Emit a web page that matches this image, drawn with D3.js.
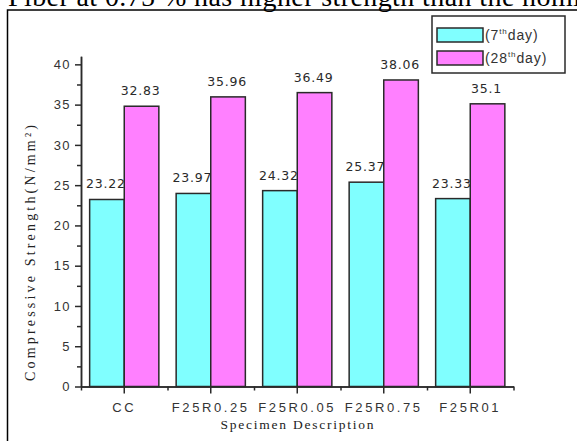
<!DOCTYPE html>
<html><head><meta charset="utf-8">
<script src="https://cdn.jsdelivr.net/npm/d3@7"></script>
<style>body{margin:0;background:#fff;overflow:hidden}svg{display:block}</style>
</head><body>
<svg id="c" width="577" height="441"></svg>
<script>
const categories = ["CC", "F25R0.25", "F25R0.05", "F25R0.75", "F25R01"];
const day7 = [23.22, 23.97, 24.32, 25.37, 23.33];
const day28 = [34.8, 35.96, 36.49, 38.06, 35.1];
const labels7 = ["23.22", "23.97", "24.32", "25.37", "23.33"];
const labels28 = ["32.83", "35.96", "36.49", "38.06", "35.1"];
const yMajor = [0, 5, 10, 15, 20, 25, 30, 35, 40];
const yMinor = [2.5, 7.5, 12.5, 17.5, 22.5, 27.5, 32.5, 37.5];
const seriesNames = ["7", "28"];
const colors = ["#80ffff", "#ff80ff"];

const svg = d3.select("#c");
const ink = "#2a2a2a";

// surrounding page text and frame
svg.append("text").attr("x", 8).attr("y", 5.5)
  .attr("font-family", "Liberation Serif").attr("font-size", 28).attr("fill", "#000")
  .attr("letter-spacing", 0.4)
  .text("Fiber at 0.75 % has higher strength than the nominal");
svg.append("rect").attr("x", 7.5).attr("y", 10).attr("width", 600).attr("height", 460)
  .attr("fill", "none").attr("stroke", "#000").attr("stroke-width", 1.5);

const x0 = d3.scaleBand().domain(categories).range([81, 513.5]).paddingInner(0.2).paddingOuter(0.1);
const x1 = d3.scaleBand().domain([0, 1]).range([0, x0.bandwidth()]);
const y = d3.scaleLinear().domain([0, 41]).range([386.5, 56.3]);
const xLin = d3.scaleLinear().domain([0, categories.length]).range([81, 513.5]);

// bars
const groups = svg.append("g").selectAll("g").data(categories).join("g")
  .attr("transform", d => `translate(${x0(d)},0)`);
[day7, day28].forEach((vals, s) => {
  groups.append("rect")
    .attr("x", (d, i) => x1(s))
    .attr("y", (d, i) => y(vals[i]))
    .attr("width", x1.bandwidth())
    .attr("height", (d, i) => y(0) - y(vals[i]))
    .attr("fill", colors[s]).attr("stroke", ink).attr("stroke-width", 1.5);
});
[[day7, labels7], [day28, labels28]].forEach(([vals, labs], s) => {
  groups.append("text")
    .attr("x", x1(s) + x1.bandwidth() / 2 - 1)
    .attr("y", (d, i) => y(vals[i]) - 11)
    .attr("text-anchor", "middle")
    .attr("font-family", "DejaVu Sans").attr("font-size", 12.5).attr("letter-spacing", 0.8)
    .attr("fill", ink)
    .text((d, i) => labs[i]);
});

// y axis
svg.append("g").attr("transform", "translate(81,0)")
  .call(d3.axisLeft(y).tickValues(yMajor).tickSize(6).tickSizeOuter(0).tickPadding(4).tickFormat(d3.format("d")));
svg.append("g").attr("transform", "translate(81,0)")
  .call(d3.axisLeft(y).tickValues(yMinor).tickSize(4).tickSizeOuter(0).tickFormat(""));
// x axis
const xAxis = svg.append("g").attr("transform", "translate(0,386.5)")
  .call(d3.axisBottom(x0).tickSize(7).tickSizeOuter(0).tickPadding(9));
svg.append("g").attr("transform", "translate(0,386.5)")
  .call(d3.axisBottom(xLin).tickValues(d3.range(0, categories.length + 1)).tickSize(4).tickSizeOuter(0).tickFormat(""));
svg.selectAll(".domain, .tick line").attr("stroke", ink).attr("stroke-width", 1.5);
svg.selectAll(".tick text").attr("font-family", "Liberation Sans").attr("font-size", 13)
  .attr("letter-spacing", 1.4).attr("fill", "#333");
xAxis.selectAll(".tick text").attr("letter-spacing", 2.6);

// axis titles
svg.append("text").attr("transform", "translate(35,253) rotate(-90)")
  .attr("text-anchor", "middle").attr("font-family", "Liberation Serif").attr("font-size", 14)
  .attr("fill", "#222").attr("textLength", 256).attr("lengthAdjust", "spacing")
  .text("Compressive Strength(N/mm²)");
svg.append("text").attr("x", 297).attr("y", 429)
  .attr("text-anchor", "middle").attr("font-family", "Liberation Serif").attr("font-size", 13.5)
  .attr("fill", "#222").attr("textLength", 153).attr("lengthAdjust", "spacing")
  .text("Specimen Description");

// legend
const lg = svg.append("g");
lg.append("rect").attr("x", 432).attr("y", 16).attr("width", 133).attr("height", 57)
  .attr("fill", "#fff").attr("stroke", ink).attr("stroke-width", 1.5);
seriesNames.forEach((n, s) => {
  const yy = 28 + s * 23;
  lg.append("rect").attr("x", 437).attr("y", yy).attr("width", 46).attr("height", 14)
    .attr("fill", colors[s]).attr("stroke", ink).attr("stroke-width", 1.5);
  const t = lg.append("text").attr("x", 485).attr("y", yy + 12)
    .attr("font-family", "Liberation Sans").attr("font-size", 14).attr("fill", "#333")
    .attr("letter-spacing", 0.9);
  t.append("tspan").text("(" + n);
  t.append("tspan").attr("font-size", 8).attr("dy", -6).text("th");
  t.append("tspan").attr("dy", 6).text("day)");
});
</script>
</body></html>
